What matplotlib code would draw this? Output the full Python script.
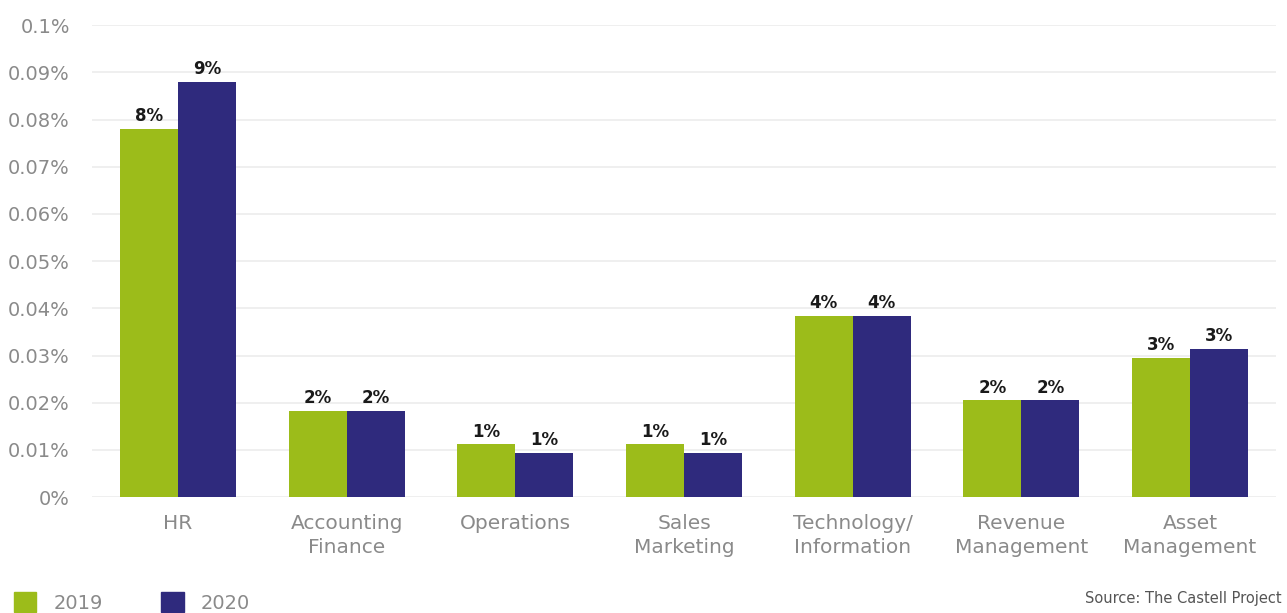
import matplotlib.pyplot as plt
import matplotlib.patches as mpatches
import numpy as np

categories = ["HR", "Accounting\nFinance", "Operations", "Sales\nMarketing",
              "Technology/\nInformation", "Revenue\nManagement", "Asset\nManagement"]
values_2019 = [0.078, 0.0182, 0.0112, 0.0112, 0.0384, 0.0205, 0.0295]
values_2020 = [0.088, 0.0182, 0.0094, 0.0094, 0.0384, 0.0205, 0.0314]
labels_2019 = ["8%", "2%", "1%", "1%", "4%", "2%", "3%"]
labels_2020 = ["9%", "2%", "1%", "1%", "4%", "2%", "3%"]
yticks = [0, 0.01, 0.02, 0.03, 0.04, 0.05, 0.06, 0.07, 0.08, 0.09, 0.1]
ytick_labels = ["0%", "0.01%", "0.02%", "0.03%", "0.04%", "0.05%", "0.06%",
                "0.07%", "0.08%", "0.09%", "0.1%"]

green = "#9cbc1a"
navy = "#2f2a7d"
gray = "#8a8a8a"
font = ["DejaVu Sans"]

fig = plt.figure(figsize=(12.87, 6.13), dpi=100)
ax = fig.add_axes([0.0715, 0.189, 0.92, 0.770])

x = np.arange(len(categories))
width = 0.344
ax.bar(x - width / 2, values_2019, width, color=green, zorder=3)
ax.bar(x + width / 2, values_2020, width, color=navy, zorder=3)

for xi, v, lab in zip(x - width / 2, values_2019, labels_2019):
    ax.text(xi, v + 0.0008, lab, ha="center", va="bottom", fontsize=12,
            fontweight="bold", color="#1a1a1a", family=font)
for xi, v, lab in zip(x + width / 2, values_2020, labels_2020):
    ax.text(xi, v + 0.0008, lab, ha="center", va="bottom", fontsize=12,
            fontweight="bold", color="#1a1a1a", family=font)

ax.set_xlim(-0.51, 6.51)
ax.set_ylim(0, 0.1)
ax.set_yticks(yticks)
ax.set_yticklabels(ytick_labels, family=font, fontsize=14, color=gray)
ax.set_xticks(x)
ax.set_xticklabels(categories, family=font, fontsize=14.5, color=gray, linespacing=1.35)
ax.tick_params(axis="both", length=0)
ax.tick_params(axis="y", pad=16)
ax.tick_params(axis="x", pad=12)
ax.grid(axis="y", color="#ececec", linewidth=1.2, zorder=0)
for spine in ax.spines.values():
    spine.set_visible(False)

handles = [mpatches.Patch(color=green, label="2019"),
           mpatches.Patch(color=navy, label="2020")]
fig.legend(handles=handles, loc="lower left", bbox_to_anchor=(-0.003, -0.028), ncol=2,
           frameon=False, handlelength=1.15, handleheight=1.15, columnspacing=3.0,
           handletextpad=0.9, prop={"family": font, "size": 14}, labelcolor=gray)

fig.text(0.996, 0.012, "Source: The Castell Project", ha="right", va="bottom",
         fontsize=10.5, color="#555555", family=font)

fig.savefig("out.png", dpi=100)
